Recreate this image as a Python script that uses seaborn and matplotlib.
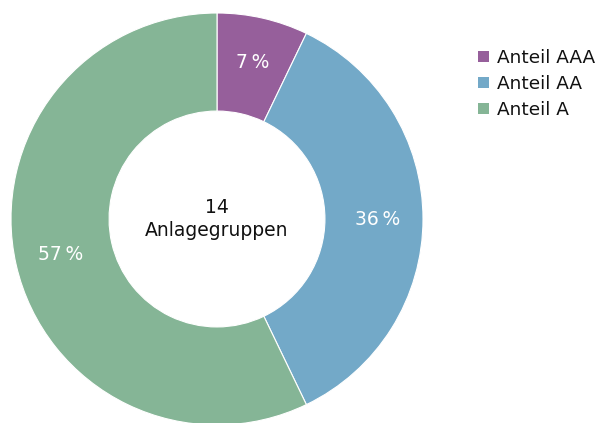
import numpy as np
import seaborn as sns
import matplotlib
matplotlib.use("Agg")
import matplotlib.pyplot as plt
from matplotlib.patches import Patch

# data: number of investment groups per rating share (14 in total)
labels = ["Anteil AAA", "Anteil AA", "Anteil A"]
counts = [1, 5, 8]
center_text = "14\nAnlagegruppen"
colors = sns.color_palette(["#965f9b", "#73a9c8", "#85b596"])

sns.set_style("white")
plt.rcParams['font.family'] = ['DejaVu Sans']

fig = plt.figure(figsize=(6.05, 4.23), dpi=100)
ax = fig.add_axes([11 / 605, -2 / 423, 412 / 605, 412 / 423])

wedges, texts, autotexts = ax.pie(
    counts, colors=colors, startangle=90, counterclock=False,
    radius=1.0, pctdistance=0.78,
    autopct=lambda p: f"{p:.0f}\u2009%",
    wedgeprops=dict(width=0.476, edgecolor="white", linewidth=0.8),
    textprops=dict(color="white", fontsize=13.5),
)
ax.set_xlim(-1, 1)
ax.set_ylim(-1, 1)
ax.set_aspect("equal")
ax.axis("off")

ax.text(0, 0, center_text, ha="center", va="center", fontsize=13.5,
        color="#111111", linespacing=1.3)

handles = [Patch(facecolor=c, edgecolor="none") for c in colors]
fig.legend(handles, labels, loc="upper left", bbox_to_anchor=(471 / 605, 1 - 42 / 423),
           frameon=False, fontsize=13.3, handlelength=0.55, handleheight=0.55,
           handletextpad=0.45, labelspacing=0.42, borderaxespad=0,
           labelcolor="#111111")

fig.savefig("out.png", dpi=100)
